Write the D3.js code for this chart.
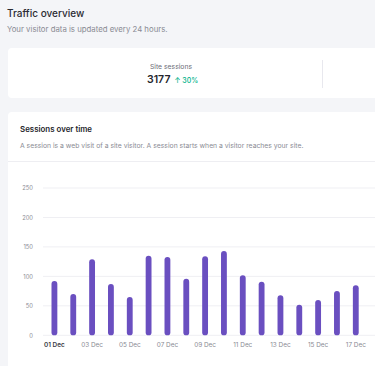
<!DOCTYPE html>
<html>
<head>
<meta charset="utf-8">
<script src="https://cdn.jsdelivr.net/npm/d3@7"></script>
<style>
  html, body { margin: 0; padding: 0; background: #f4f5f8; overflow: hidden; }
  text { font-family: Inter, "Noto Sans", sans-serif; }
</style>
</head>
<body>
<div class="traffic"></div>
<script>
// 数据
const days = ['01 Dec','02 Dec','03 Dec','04 Dec','05 Dec','06 Dec','07 Dec','08 Dec','09 Dec',
  '10 Dec','11 Dec','12 Dec','13 Dec','14 Dec','15 Dec','16 Dec','17 Dec'];
const sessions = [92, 70, 129, 87, 65, 135, 133, 96, 134, 143, 102, 91, 68, 52, 60, 75, 85];
const yTicks = [0, 50, 100, 150, 200, 250];
const totalSessions = '3177';
const change = '30%';

// 画布
const width = 375;
const height = 366;
const svg = d3.select('.traffic').append('svg')
    .attr('width', width)
    .attr('height', height)
    .style('display', 'block');

svg.append('rect').attr('width', width).attr('height', height).attr('fill', '#f4f5f8');

// header
svg.append('text').attr('x', 7).attr('y', 16.5)
    .attr('font-size', 10).attr('font-weight', 500).attr('fill', '#2b2b33')
    .text('Traffic overview');
svg.append('text').attr('x', 7).attr('y', 32)
    .attr('font-size', 7.8).attr('fill', '#8a8b94')
    .text('Your visitor data is updated every 24 hours.');

// card 1
svg.append('rect').attr('x', 8).attr('y', 48).attr('width', 380).attr('height', 50)
    .attr('rx', 4).attr('fill', '#fff');
svg.append('text').attr('x', 171).attr('y', 68.5).attr('text-anchor', 'middle')
    .attr('font-size', 6.8).attr('fill', '#6d6e78').text('Site sessions');
const stat = svg.append('text').attr('x', 147).attr('y', 82.5)
    .attr('font-size', 10.5).attr('font-weight', 600).attr('fill', '#25252c');
stat.append('tspan').text(totalSessions);
stat.append('tspan').attr('dx', 4).attr('font-size', 7).attr('font-weight', 500)
    .attr('fill', '#00b28a').text('\u2191 ' + change);
svg.append('line').attr('x1', 322.5).attr('x2', 322.5).attr('y1', 60).attr('y2', 88)
    .attr('stroke', '#e8e8ee');

// card 2
svg.append('rect').attr('x', 8).attr('y', 112).attr('width', 380).attr('height', 270)
    .attr('rx', 4).attr('fill', '#fff');
svg.append('text').attr('x', 20).attr('y', 132)
    .attr('font-size', 7.9).attr('font-weight', 600).attr('fill', '#25252c')
    .text('Sessions over time');
svg.append('text').attr('x', 20).attr('y', 148)
    .attr('font-size', 6.8).attr('fill', '#8a8b94')
    .text('A session is a web visit of a site visitor. A session starts when a visitor reaches your site.');
svg.append('line').attr('x1', 8).attr('x2', width).attr('y1', 161.5).attr('y2', 161.5)
    .attr('stroke', '#eeeef2');

// scales
const x = d3.scaleBand().domain(days).range([38.5, 38.5 + 19.6 * days.length]).padding(0.69);
const y = d3.scaleLinear().domain([0, 250]).range([335.3, 188]);

// grid
svg.append('g').selectAll('line').data(yTicks).enter().append('line')
    .attr('x1', 43).attr('x2', width)
    .attr('y1', d => y(d)).attr('y2', d => y(d))
    .attr('stroke', '#efeff3');

const yAxis = svg.append('g').attr('transform', 'translate(33,0)')
    .call(d3.axisLeft(y).tickValues(yTicks).tickSize(0).tickPadding(0));
yAxis.select('.domain').remove();
yAxis.selectAll('text').attr('font-size', 5.8).attr('fill', '#8a8b94')
    .attr('font-family', 'Inter, "Noto Sans", sans-serif');

// bars
svg.append('g').selectAll('rect').data(sessions).enter().append('rect')
    .attr('x', (d, i) => x(days[i]))
    .attr('y', d => y(d))
    .attr('width', x.bandwidth())
    .attr('height', d => y(0) - y(d))
    .attr('rx', x.bandwidth() / 2)
    .attr('fill', '#6a4fc0');

// x axis
const xAxis = svg.append('g').attr('transform', 'translate(0,' + 342 + ')')
    .call(d3.axisBottom(x).tickValues(days.filter((d, i) => i % 2 === 0)).tickSize(0).tickPadding(0));
xAxis.select('.domain').remove();
xAxis.selectAll('text').attr('font-size', 6.4)
    .attr('font-family', 'Inter, "Noto Sans", sans-serif')
    .attr('font-weight', (d, i) => i === 0 ? 600 : 400)
    .attr('fill', (d, i) => i === 0 ? '#3a3a44' : '#8a8b94');
</script>
</body>
</html>
